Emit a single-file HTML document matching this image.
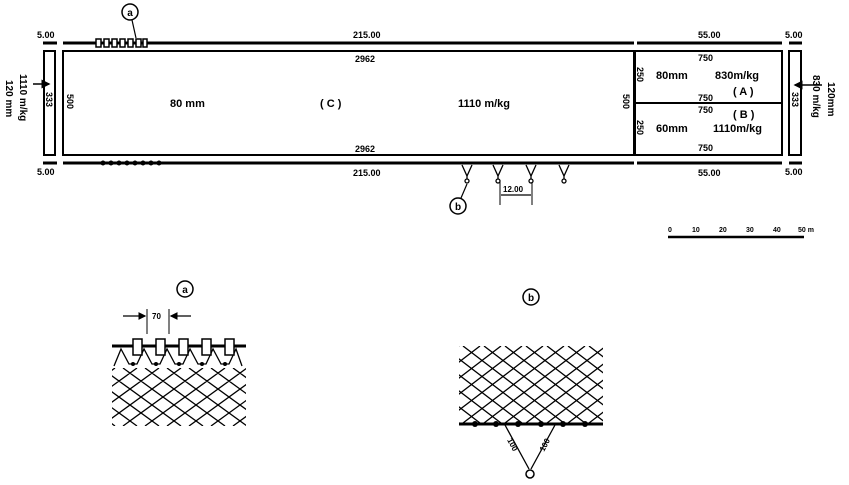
<!DOCTYPE html>
<html><head><meta charset="utf-8"><style>
html,body{margin:0;padding:0;background:#fff;}
svg{display:block;}
text{font-family:"Liberation Sans",sans-serif;font-weight:bold;fill:#000;}
</style></head><body>
<svg width="849" height="485" viewBox="0 0 849 485" xmlns="http://www.w3.org/2000/svg">
<defs>
<clipPath id="ca"><rect x="112" y="368" width="134" height="58"/></clipPath>
<clipPath id="cb"><rect x="459" y="346" width="144" height="77"/></clipPath>
<marker id="ar" markerWidth="6" markerHeight="6" refX="5" refY="3" orient="auto"><path d="M0 0L6 3L0 6z" fill="#000"/></marker>
</defs>
<g stroke="#000" fill="none">
<line x1="43" y1="43" x2="57" y2="43" stroke-width="3"/>
<line x1="63" y1="43" x2="634" y2="43" stroke-width="3"/>
<line x1="637" y1="43" x2="782" y2="43" stroke-width="3"/>
<line x1="789" y1="43" x2="802" y2="43" stroke-width="3"/>
<line x1="43" y1="163" x2="57" y2="163" stroke-width="3"/>
<line x1="63" y1="163" x2="634" y2="163" stroke-width="3"/>
<line x1="637" y1="163" x2="782" y2="163" stroke-width="3"/>
<line x1="789" y1="163" x2="802" y2="163" stroke-width="3"/>
<rect x="63" y="51" width="571" height="104" stroke-width="2"/>
<rect x="635" y="51" width="147" height="104" stroke-width="2"/>
<line x1="635" y1="103" x2="782" y2="103" stroke-width="2"/>
<rect x="44" y="51" width="11" height="104" stroke-width="2"/>
<rect x="789" y="51" width="12" height="104" stroke-width="2"/>
<line x1="33" y1="84" x2="49" y2="84" stroke-width="1.5" marker-end="url(#ar)"/>
<line x1="822" y1="85" x2="795" y2="85" stroke-width="1.5" marker-end="url(#ar)"/>
<g stroke-width="1.5" fill="#fff">
<rect x="96" y="39" width="5" height="8"/><rect x="104" y="39" width="5" height="8"/><rect x="112" y="39" width="5" height="8"/><rect x="120" y="39" width="5" height="8"/><rect x="128" y="39" width="5" height="8"/><rect x="136" y="39" width="5" height="8"/><rect x="143" y="39" width="4" height="8"/>
</g>
<circle cx="130" cy="12" r="8" stroke-width="1.5"/>
<line x1="132" y1="20" x2="136" y2="38" stroke-width="1.2"/>
<g fill="#000" stroke="none">
<circle cx="103" cy="163" r="2.5"/><circle cx="111" cy="163" r="2.5"/><circle cx="119" cy="163" r="2.5"/><circle cx="127" cy="163" r="2.5"/><circle cx="135" cy="163" r="2.5"/><circle cx="143" cy="163" r="2.5"/><circle cx="151" cy="163" r="2.5"/><circle cx="159" cy="163" r="2.5"/>
</g>
<g stroke-width="1.3">
<path d="M462 165L467 176L472 165M467 176V179"/><circle cx="467" cy="181" r="2"/>
<path d="M493 165L498 176L503 165M498 176V179"/><circle cx="498" cy="181" r="2"/>
<path d="M526 165L531 176L536 165M531 176V179"/><circle cx="531" cy="181" r="2"/>
<path d="M559 165L564 176L569 165M564 176V179"/><circle cx="564" cy="181" r="2"/>
</g>
<circle cx="458" cy="206" r="8" stroke-width="1.5"/>
<line x1="461" y1="198" x2="467" y2="184" stroke-width="1.2"/>
<line x1="500" y1="182" x2="500" y2="205" stroke-width="1"/>
<line x1="532" y1="182" x2="532" y2="205" stroke-width="1"/>
<line x1="501" y1="195" x2="531" y2="195" stroke-width="1.3"/>
<line x1="668" y1="237" x2="804" y2="237" stroke-width="2.5"/>
</g>
<text x="130" y="16" text-anchor="middle" font-size="10">a</text>
<text x="458" y="210" text-anchor="middle" font-size="10">b</text>
<g font-size="9">
<text x="37" y="38">5.00</text><text x="37" y="175">5.00</text>
<text x="785" y="38">5.00</text><text x="785" y="175">5.00</text>
<text x="353" y="38">215.00</text><text x="353" y="176">215.00</text>
<text x="698" y="38">55.00</text><text x="698" y="176">55.00</text>
<text x="355" y="62">2962</text><text x="355" y="152">2962</text>
<text x="503" y="192" font-size="8">12.00</text>
<text x="698" y="61">750</text><text x="698" y="101">750</text><text x="698" y="113">750</text><text x="698" y="151">750</text>
<text x="668" y="232" font-size="7">0</text><text x="692" y="232" font-size="7">10</text><text x="719" y="232" font-size="7">20</text><text x="746" y="232" font-size="7">30</text><text x="773" y="232" font-size="7">40</text><text x="798" y="232" font-size="7">50 m</text>
</g>
<g font-size="11">
<text x="170" y="107">80 mm</text>
<text x="320" y="107">( C )</text>
<text x="458" y="107">1110 m/kg</text>
<text x="656" y="79">80mm</text><text x="715" y="79">830m/kg</text>
<text x="733" y="95">( A )</text><text x="733" y="118">( B )</text>
<text x="656" y="132">60mm</text><text x="713" y="132">1110m/kg</text>
</g>
<g font-size="9">
<text transform="translate(46,92) rotate(90)">333</text>
<text transform="translate(67,94) rotate(90)">500</text>
<text transform="translate(623,94) rotate(90)">500</text>
<text transform="translate(637,67) rotate(90)">250</text>
<text transform="translate(637,120) rotate(90)">250</text>
<text transform="translate(792,92) rotate(90)">333</text>
</g>
<g font-size="10">
<text transform="translate(20,74) rotate(90)">1110 m/kg</text>
<text transform="translate(6,80) rotate(90)">120 mm</text>
<text transform="translate(813,75) rotate(90)">830 m/kg</text>
<text transform="translate(828,82) rotate(90)">120mm</text>
</g>
<!-- detail a -->
<g stroke="#000" fill="none">
<circle cx="185" cy="289" r="8" stroke-width="1.5"/>
<line x1="123" y1="316" x2="145" y2="316" stroke-width="1.3" marker-end="url(#ar)"/>
<line x1="191" y1="316" x2="171" y2="316" stroke-width="1.3" marker-end="url(#ar)"/>
<line x1="147" y1="309" x2="147" y2="334" stroke-width="1"/>
<line x1="169" y1="309" x2="169" y2="334" stroke-width="1"/>
<g clip-path="url(#ca)" stroke-width="1.3">
<path d="M35 368l80 58M57 368l80 58M79 368l80 58M101 368l80 58M123 368l80 58M145 368l80 58M167 368l80 58M189 368l80 58M211 368l80 58M233 368l80 58
M35 426l80 -58M57 426l80 -58M79 426l80 -58M101 426l80 -58M123 426l80 -58M145 426l80 -58M167 426l80 -58M189 426l80 -58M211 426l80 -58M233 426l80 -58"/>
</g>
<path d="M114 366L121 349L129 364H137L144 349L152 364H160L167 349L175 364H183L190 349L198 364H206L213 349L221 364H229L236 349L242 366" stroke-width="1.3"/>
<g fill="#000" stroke="none"><circle cx="133" cy="364" r="2"/><circle cx="156" cy="364" r="2"/><circle cx="179" cy="364" r="2"/><circle cx="202" cy="364" r="2"/><circle cx="225" cy="364" r="2"/></g>
<line x1="112" y1="346" x2="246" y2="346" stroke-width="3"/>
<g fill="#fff" stroke-width="1.5">
<rect x="133" y="339" width="9" height="16"/><rect x="156" y="339" width="9" height="16"/><rect x="179" y="339" width="9" height="16"/><rect x="202" y="339" width="9" height="16"/><rect x="225" y="339" width="9" height="16"/>
</g>
</g>
<text x="185" y="293" text-anchor="middle" font-size="10">a</text>
<text x="152" y="319" font-size="8">70</text>
<!-- detail b -->
<g stroke="#000" fill="none">
<circle cx="531" cy="297" r="8" stroke-width="1.5"/>
<g clip-path="url(#cb)" stroke-width="1.3">
<path d="M358 346l101 77M379 346l101 77M400 346l101 77M421 346l101 77M442 346l101 77M463 346l101 77M484 346l101 77M505 346l101 77M526 346l101 77M547 346l101 77M568 346l101 77M589 346l101 77
M358 423l101 -77M379 423l101 -77M400 423l101 -77M421 423l101 -77M442 423l101 -77M463 423l101 -77M484 423l101 -77M505 423l101 -77M526 423l101 -77M547 423l101 -77M568 423l101 -77M589 423l101 -77"/>
</g>
<line x1="459" y1="424" x2="603" y2="424" stroke-width="3"/>
<g fill="#000" stroke="none"><circle cx="475" cy="424" r="3"/><circle cx="496" cy="424" r="3"/><circle cx="518" cy="424" r="3"/><circle cx="541" cy="424" r="3"/><circle cx="563" cy="424" r="3"/><circle cx="585" cy="424" r="3"/></g>
<path d="M505 425L529 469M555 425L531 469" stroke-width="1.3"/>
<circle cx="530" cy="474" r="4" stroke-width="1.5"/>
</g>
<text x="531" y="301" text-anchor="middle" font-size="10">b</text>
<text transform="translate(507,440) rotate(62)" font-size="8">100</text>
<text transform="translate(544,452) rotate(-62)" font-size="8">100</text>
</svg>
</body></html>
